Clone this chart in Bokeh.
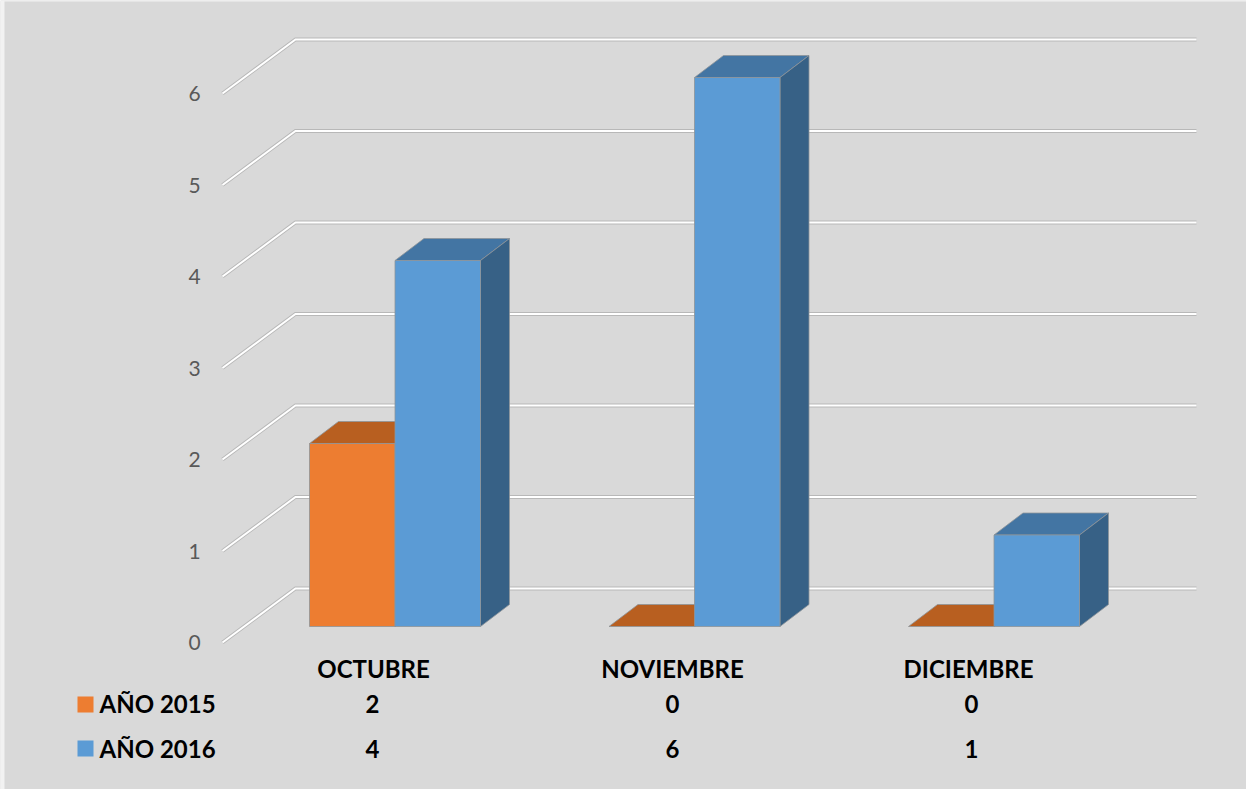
from bokeh.plotting import figure
from bokeh.embed import file_html
from bokeh.resources import INLINE
from bokeh.core.properties import value

categories = ["OCTUBRE", "NOVIEMBRE", "DICIEMBRE"]
series_names = ["AÑO 2015", "AÑO 2016"]
values_2015 = [2, 0, 0]
values_2016 = [4, 6, 1]
y_ticks = [0, 1, 2, 3, 4, 5, 6]

ORANGE = ("#ed7d31", "#b85f20", "#8f4a19")
BLUE = ("#5b9bd5", "#4375a3", "#376186")
BG = "#d9d9d9"

# page-pixel layout of the figure
W, H = 1246, 789
LEFT, TOP = 0, 0
PX_X, PX_Y = 299.5, 91.5        # pixels per category, pixels per value unit
X0, Y0 = 394.5, 626             # page pixel of category 0 / value 0

def dx(px): return (px - X0) / PX_X
def dy(py): return (Y0 - py) / PX_Y

p = figure(width=W, height=H, output_backend="svg", toolbar_location=None,
           x_range=(dx(LEFT), dx(LEFT + W)), y_range=(dy(TOP + H), dy(TOP)),
           background_fill_color=BG, border_fill_color=BG,
           min_border=0, outline_line_color=None)
p.axis.visible = False
p.grid.visible = False
p.toolbar.logo = None

# lighter sliver at the picture's left and top edges
p.quad(left=[dx(0)], right=[dx(4)], top=[dy(0)], bottom=[dy(789)], fill_color="#f2f2f2", line_color=None)
p.quad(left=[dx(0)], right=[dx(1246)], top=[dy(0)], bottom=[dy(1)], fill_color="#f2f2f2", line_color=None)

# 3-D walls: value gridlines
WALL_X, WALL_FRONT, GRID_END = dx(295), dx(222), dx(1196)
WALL_DY = 38 / PX_Y     # back wall rise above the value's base level
FRONT_DY = 16 / PX_Y    # front edge drop below the value's base level
gx = [[WALL_FRONT, WALL_X, GRID_END] for _ in y_ticks]
gy = [[t - FRONT_DY, t + WALL_DY, t + WALL_DY] for t in y_ticks]
p.multi_line(gx, gy, line_color="#b8b8b8", line_width=3.8, line_join="miter")
p.multi_line(gx, gy, line_color="#ffffff", line_width=2, line_join="miter")

# y tick labels
p.text([dx(194)] * len(y_ticks), [t - FRONT_DY for t in y_ticks], text=[str(t) for t in y_ticks],
       text_font=value("Lato"), text_font_size="21px", text_color="#595959",
       text_align="center", text_baseline="middle")

# 3-D bars
BAR_W = 85.5 / PX_X
DEPTH_X, DEPTH_Y = 29 / PX_X, 22 / PX_Y
EDGE = "#8e9499"

def bars(vals, left_off, cols):
    face, top, side = cols
    for i, v in enumerate(vals):
        l = i + left_off
        r = l + BAR_W
        p.patch([l, r, r + DEPTH_X, l + DEPTH_X], [v, v, v + DEPTH_Y, v + DEPTH_Y],
                fill_color=top, line_color=EDGE, line_width=0.8)
        p.patch([r, r + DEPTH_X, r + DEPTH_X, r], [0, DEPTH_Y, v + DEPTH_Y, v],
                fill_color=side, line_color=EDGE, line_width=0.8)
        if v > 0:
            p.quad(left=[l], right=[r], bottom=[0], top=[v],
                   fill_color=face, line_color=EDGE, line_width=0.8)

bars(values_2015, -BAR_W, ORANGE)
bars(values_2016, 0, BLUE)

# data table under the chart
BOLD = dict(text_font=value("Lato"), text_font_style="bold", text_font_size="24px",
            text_color="#000000", text_baseline="middle")
TABLE_X = [dx(373), dx(672), dx(968)]
VALUE_X = [dx(372), dx(672), dx(971)]
p.text(TABLE_X, [dy(668)] * 3, text=categories, text_align="center", **BOLD)
p.text(VALUE_X, [dy(703)] * 3, text=[str(v) for v in values_2015], text_align="center", **BOLD)
p.text(VALUE_X, [dy(748)] * 3, text=[str(v) for v in values_2016], text_align="center", **BOLD)

# legend keys and names inside the table
p.quad(left=[dx(77)], right=[dx(93)], top=[dy(696)], bottom=[dy(712)], fill_color=ORANGE[0], line_color=None)
p.quad(left=[dx(77)], right=[dx(93)], top=[dy(740)], bottom=[dy(756)], fill_color=BLUE[0], line_color=None)
p.text([dx(99)], [dy(703)], text=[series_names[0]], text_align="left", **BOLD)
p.text([dx(99)], [dy(748)], text=[series_names[1]], text_align="left", **BOLD)

open("out.html", "w").write(file_html(p, INLINE))
